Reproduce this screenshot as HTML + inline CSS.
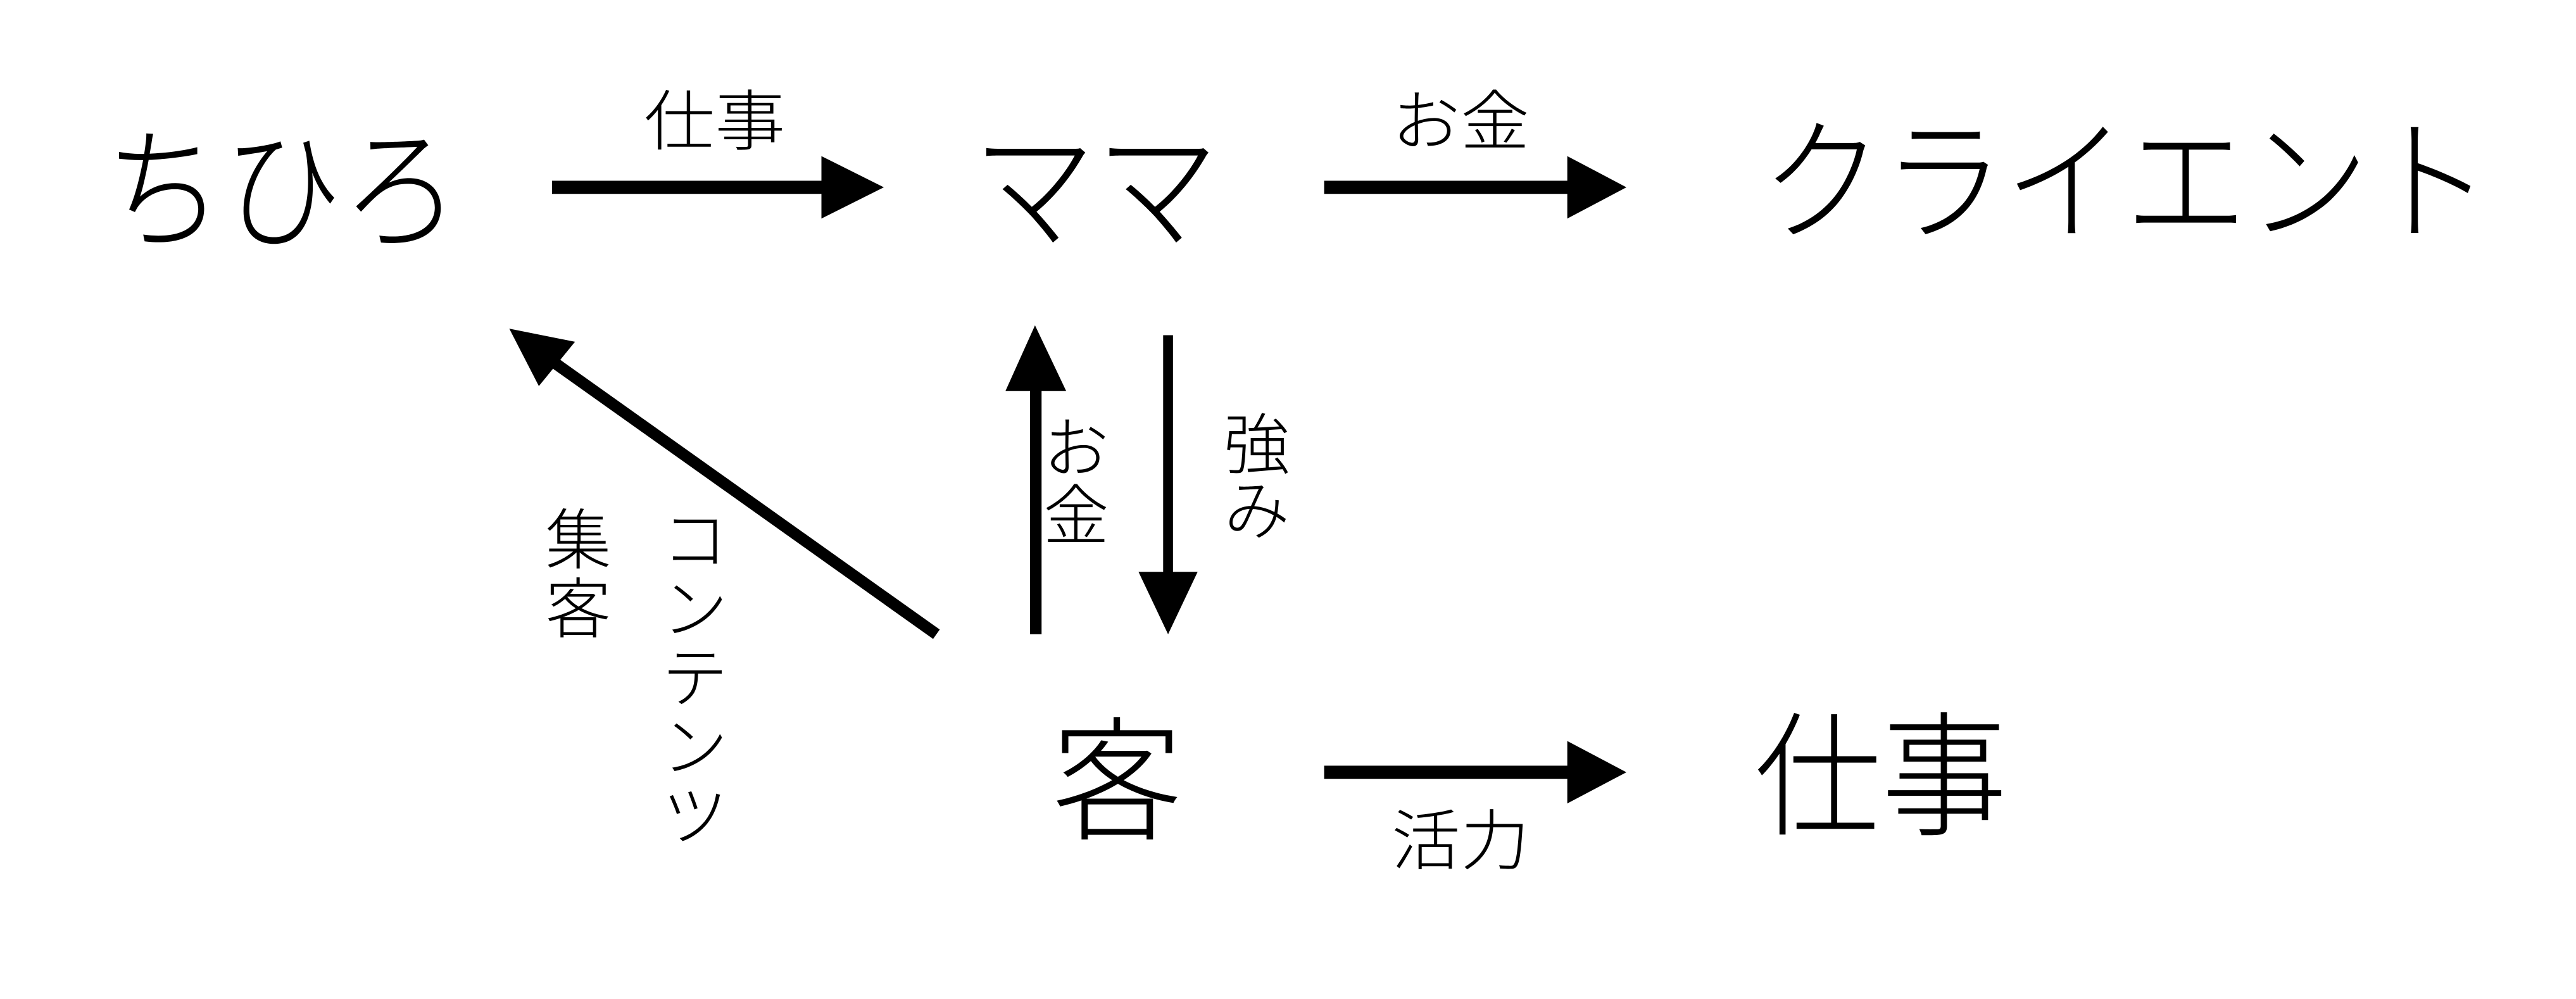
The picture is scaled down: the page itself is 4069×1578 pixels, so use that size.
<!DOCTYPE html>
<html><head><meta charset="utf-8"><style>
html,body{margin:0;padding:0;background:#fff;width:4069px;height:1578px;overflow:hidden}
svg{display:block}
text{font-family:"Liberation Sans","Noto Sans CJK JP",sans-serif;fill:#000;font-weight:300}
</style></head><body>
<svg width="4069" height="1578" viewBox="0 0 1568 608" preserveAspectRatio="none" xmlns="http://www.w3.org/2000/svg">
<g font-size="82">
<text x="64" y="145" textLength="216" lengthAdjust="spacingAndGlyphs">ちひろ</text>
<text x="592" y="145" textLength="150" lengthAdjust="spacingAndGlyphs">ママ</text>
<text x="1072" y="140" textLength="444" lengthAdjust="spacingAndGlyphs">クライエント</text>
<text x="640" y="505" textLength="80" lengthAdjust="spacingAndGlyphs">客</text>
<text x="1068" y="502" textLength="154" lengthAdjust="spacingAndGlyphs">仕事</text>
</g>
<g font-size="40">
<text x="392" y="88" textLength="86" lengthAdjust="spacingAndGlyphs">仕事</text>
<text x="847" y="88" textLength="84" lengthAdjust="spacingAndGlyphs">お金</text>
<text x="847" y="526" textLength="84" lengthAdjust="spacingAndGlyphs">活力</text>
<text x="635" y="287">お</text>
<text x="635" y="328">金</text>
<text x="745" y="285">強</text>
<text x="745" y="325">み</text>
<text x="332" y="343">集</text>
<text x="332" y="385">客</text>
</g>
<g font-size="40">
<text x="403" y="343">コ</text>
<text x="403" y="385">ン</text>
<text x="403" y="427">テ</text>
<text x="403" y="469">ン</text>
<text x="403" y="511">ツ</text>
</g>
<rect x="336" y="110" width="166" height="8"/>
<polygon points="500,95 538,114 500,133"/>
<rect x="806" y="110" width="152" height="8"/>
<polygon points="954,95 990,114 954,133"/>
<rect x="806" y="466" width="152" height="8"/>
<polygon points="954,451 990,470 954,489"/>
<rect x="627" y="232" width="7" height="154"/>
<polygon points="612,238 630,198 649,238"/>
<rect x="708" y="204" width="6" height="148"/>
<polygon points="693,348 711,386 729,348"/>
<line x1="570" y1="386" x2="335" y2="219" stroke="#000" stroke-width="7"/>
<polygon points="310,200 350,208 328,235"/>
</svg>
</body></html>
